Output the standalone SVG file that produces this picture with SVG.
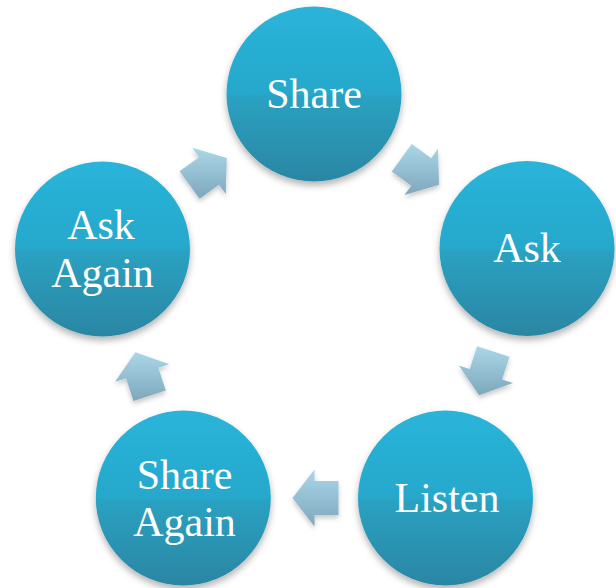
<svg xmlns="http://www.w3.org/2000/svg" width="616" height="588" viewBox="0 0 616 588">
  <defs>
    <linearGradient id="circGrad" x1="0" y1="0" x2="0" y2="1">
      <stop offset="0" stop-color="#2ab4da"/>
      <stop offset="0.5" stop-color="#25a8cb"/>
      <stop offset="0.52" stop-color="#29a1c1"/>
      <stop offset="1" stop-color="#2b86a3"/>
    </linearGradient>
    <linearGradient id="arrowGrad" x1="0" y1="0" x2="0" y2="1">
      <stop offset="0" stop-color="#abd6e8"/>
      <stop offset="1" stop-color="#7ea7bb"/>
    </linearGradient>
    <filter id="shadow" x="-20%" y="-20%" width="140%" height="150%">
      <feDropShadow dx="0" dy="4" stdDeviation="3.5" flood-color="#000" flood-opacity="0.3"/>
    </filter>
    <filter id="ashadow" x="-30%" y="-30%" width="160%" height="170%">
      <feDropShadow dx="0" dy="3" stdDeviation="2.5" flood-color="#000" flood-opacity="0.22"/>
    </filter>
  </defs>
  <style>
    .node circle { fill: url(#circGrad); filter: url(#shadow); }
    .node text { fill: #ffffff; font-family: "Liberation Serif", "DejaVu Serif", serif; font-size: 42px; text-anchor: middle; }
    .arrow { fill: url(#arrowGrad); filter: url(#ashadow); }
  </style>
  <rect width="616" height="588" fill="#ffffff"/>

  <g id="connectors">
    <polygon class="arrow" points="179.6,171.27 199.02,157.16 192.26,147.85 226.81,157.98 225.76,193.97 219.0,184.66 199.58,198.77"/>
    <polygon class="arrow" points="411.78,144.03 431.2,158.14 437.96,148.83 439.01,184.82 404.46,194.95 411.22,185.64 391.8,171.53"/>
    <polygon class="arrow" points="509.48,356.68 502.06,379.5 513.0,383.06 479.09,395.17 458.79,365.44 469.72,369.0 477.14,346.18"/>
    <polygon class="arrow" points="338.5,515 314.5,515 314.5,526.5 292.5,498 314.5,469.5 314.5,481 338.5,481"/>
    <polygon class="arrow" points="133.44,401.12 126.02,378.3 115.09,381.86 135.39,352.13 169.29,364.24 158.36,367.8 165.78,390.62"/>
  </g>

  <g id="share" class="node">
    <circle cx="314" cy="94" r="87.5"/>
    <text x="314" y="108">Share</text>
  </g>
  <g id="ask" class="node">
    <circle cx="527" cy="248.5" r="87.5"/>
    <text x="527" y="262">Ask</text>
  </g>
  <g id="listen" class="node">
    <circle cx="445.5" cy="498" r="87.5"/>
    <text x="447" y="512">Listen</text>
  </g>
  <g id="share-again" class="node">
    <circle cx="183.3" cy="498" r="87.5"/>
    <text x="184.5" y="489">Share</text>
    <text x="184.5" y="536">Again</text>
  </g>
  <g id="ask-again" class="node">
    <circle cx="102.5" cy="249" r="87.5"/>
    <text x="101" y="239">Ask</text>
    <text x="102.5" y="286.5">Again</text>
  </g>
</svg>
